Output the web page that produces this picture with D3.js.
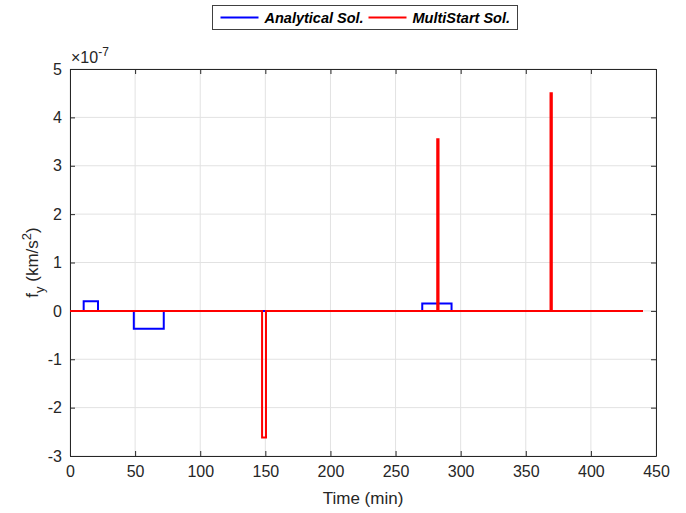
<!DOCTYPE html>
<html>
<head>
<meta charset="utf-8">
<script src="https://cdn.jsdelivr.net/npm/d3@7"></script>
<style>
  body { margin: 0; background: #fff; }
  svg { display: block; font-family: "Liberation Sans", Arial, sans-serif; }
</style>
</head>
<body>
<svg id="chart" width="686" height="513"></svg>
<script>
// Thrust component f_y (in units of 1e-7 km/s^2) as piecewise-constant profiles
const analyticalTimes  = [0, 10.5, 21.5, 49, 72, 270.5, 293, 440];
const analyticalValues = [0, 0.2, 0, -0.37, 0, 0.15, 0, 0];
const multiStartTimes  = [0, 147.5, 150.5, 282, 283, 369, 370, 440];
const multiStartValues = [0, -2.62, 0, 3.55, 0, 4.5, 0, 0];

const xTicks = [0, 50, 100, 150, 200, 250, 300, 350, 400, 450];
const yTicks = [-3, -2, -1, 0, 1, 2, 3, 4, 5];
const seriesNames = ["Analytical Sol.", "MultiStart Sol."];
const seriesColors = ["#0000ff", "#ff0000"];

const margin = { left: 70, right: 30, top: 69, bottom: 57 };
const W = 686, H = 513;
const svg = d3.select("#chart");

const x = d3.scaleLinear().domain([0, 450]).range([margin.left, W - margin.right]);
const y = d3.scaleLinear().domain([-3, 5]).range([H - margin.bottom, margin.top]);
const plainFmt = t => String(t);

// grid
const grid = svg.append("g").attr("stroke", "#e2e2e2").attr("stroke-width", 1);
xTicks.forEach(t => grid.append("line")
  .attr("x1", x(t)).attr("x2", x(t)).attr("y1", y(-3)).attr("y2", y(5)));
yTicks.forEach(t => grid.append("line")
  .attr("x1", x(0)).attr("x2", x(450)).attr("y1", y(t)).attr("y2", y(t)));

// axes
const axisColor = "#262626";
const xAxis = svg.append("g").attr("transform", `translate(0,${y(-3)})`)
  .call(d3.axisBottom(x).tickValues(xTicks).tickFormat(plainFmt).tickSizeInner(-5).tickSizeOuter(0).tickPadding(10));
const yAxis = svg.append("g").attr("transform", `translate(${x(0)},0)`)
  .call(d3.axisLeft(y).tickValues(yTicks).tickFormat(plainFmt).tickSizeInner(-5).tickSizeOuter(0).tickPadding(8));
const xTop = svg.append("g").attr("transform", `translate(0,${y(5)})`)
  .call(d3.axisTop(x).tickValues(xTicks).tickFormat("").tickSizeInner(-5).tickSizeOuter(0));
const yRight = svg.append("g").attr("transform", `translate(${x(450)},0)`)
  .call(d3.axisRight(y).tickValues(yTicks).tickFormat("").tickSizeInner(-5).tickSizeOuter(0));
[xAxis, yAxis, xTop, yRight].forEach(a => {
  a.selectAll("path, line").attr("stroke", axisColor);
  a.selectAll("text").attr("fill", "#262626").style("font-size", "16px");
});

// exponent label
const expo = svg.append("text").attr("x", x(0) + 1).attr("y", y(5) - 6)
  .attr("fill", "#262626").style("font-size", "16px");
expo.append("tspan").text("\u00d710");
expo.append("tspan").attr("dy", -7).style("font-size", "12px").text("-7");

// axis labels
svg.append("text").attr("x", (x(0) + x(450)) / 2).attr("y", H - 9)
  .attr("text-anchor", "middle").attr("fill", "#262626").style("font-size", "17px")
  .text("Time (min)");
const yl = svg.append("text")
  .attr("transform", `translate(38,${(y(-3) + y(5)) / 2}) rotate(-90)`)
  .attr("text-anchor", "middle").attr("fill", "#262626").style("font-size", "17px");
yl.append("tspan").text("f");
yl.append("tspan").attr("dy", 6).style("font-size", "13px").text("y");
yl.append("tspan").attr("dy", -6).text(" (km/s");
yl.append("tspan").attr("dy", -7).style("font-size", "13px").text("2");
yl.append("tspan").attr("dy", 7).text(")");

// series
const line = d3.line().x(d => x(d[0])).y(d => y(d[1])).curve(d3.curveStepAfter);
const series = [
  d3.zip(analyticalTimes, analyticalValues),
  d3.zip(multiStartTimes, multiStartValues)
];
series.forEach((s, i) => {
  svg.append("path").datum(s).attr("d", line)
    .attr("fill", "none").attr("stroke", seriesColors[i]).attr("stroke-width", 2);
});

// legend
const lg = svg.append("g").attr("transform", "translate(212.5,5.5)");
lg.append("rect").attr("width", 305).attr("height", 24)
  .attr("fill", "#fff").attr("stroke", "#404040").attr("stroke-width", 1);
const entries = [{ x: 8, tx: 52 }, { x: 156, tx: 200 }];
entries.forEach((e, i) => {
  lg.append("line").attr("x1", e.x).attr("x2", e.x + 38).attr("y1", 12).attr("y2", 12)
    .attr("stroke", seriesColors[i]).attr("stroke-width", 2);
  lg.append("text").attr("x", e.tx).attr("y", 17.5)
    .style("font-size", "14.5px").style("font-weight", "bold").style("font-style", "italic")
    .attr("fill", "#000").text(seriesNames[i]);
});
</script>
</body>
</html>
